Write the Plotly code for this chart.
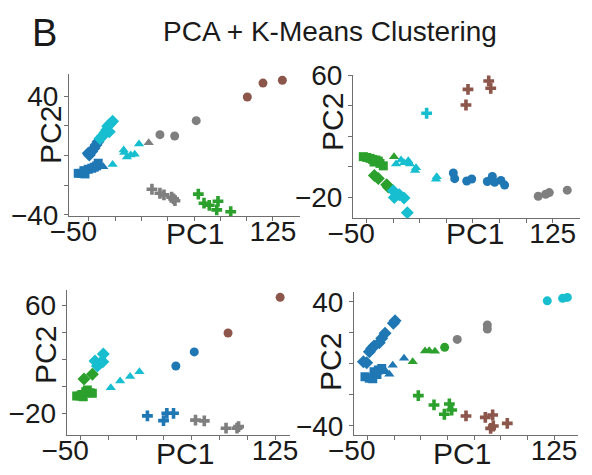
import plotly.graph_objects as go

# ---------------- data ----------------
# Panel A (top-left)
a_blue_sq_x = [-60.2, -57, -53.8, -54.8, -50.7, -47.4, -45, -42.7, -41.2]
a_blue_sq_y = [-12, -12, -12.4, -10.2, -9.3, -8.6, -7.9, -7, -5.2]
a_blue_di_x = [-50.7, -49.7, -47.4, -45.2, -43.3, -41.4]
a_blue_di_y = [1.5, 0.3, 2.6, 4.8, 7.1, 9.3]
a_blue_tri_x = [-36.4]
a_blue_tri_y = [-7.5]
a_cyan_di_x = [-39.5, -37, -34.8, -33.2, -32.2, -30.7, -30, -27.5]
a_cyan_di_y = [11.5, 13.1, 15.3, 17.1, 19.6, 16, 21.2, 23]
a_cyan_tri_x = [-27.5, -17, -16.5, -13.9, -10.3, -6.5, -2.4]
a_cyan_tri_y = [-6, 3.7, 2, -1, 0.3, 0.8, 7.7]
a_gray_tri_x = [6.8]
a_gray_tri_y = [8.6]
a_gray_ci_x = [17.5, 31.5, 52]
a_gray_ci_y = [14, 13.1, 23.4]
a_brown_ci_x = [100.6, 115.5, 133.9]
a_brown_ci_y = [39.3, 48.7, 50.6]
a_gray_cr_x = [9.9, 17.5, 21.3, 28.6, 30.5, 31.8]
a_gray_cr_y = [-22.7, -25.4, -26.5, -28.1, -29.2, -30.4]
a_green_cr_x = [54, 59.4, 64.4, 72.7, 71.5, 84.8]
a_green_cr_y = [-26, -32.1, -33.5, -30.8, -36.6, -37.8]

# Panel B (top-right)
b_brown_cr_x = [64.8, 66.7, 45.3, 43.4]
b_brown_cr_y = [56.1, 51.3, 50.6, 40.4]
b_cyan_cr_x = [6.4]
b_cyan_cr_y = [35]
b_green_sq_x = [-53.2, -50, -46.9, -44.4, -41.3, -39.1, -43.1, -37.5, -34.4]
b_green_sq_y = [6.6, 6.1, 5.5, 4.8, 4.4, 3.7, 3.1, 2.2, 0.6]
b_green_tri_x = [-24.3]
b_green_tri_y = [6.6]
b_green_di_x = [-42.8, -39.1, -31.2, -29.7]
b_green_di_y = [-5.7, -7.7, -11.8, -13.3]
b_cyan_di_x = [-25, -24, -19.3, -14.9, -11.8]
b_cyan_di_y = [-15.7, -20.1, -18.3, -20.5, -30]
b_cyan_tri_x = [-22.4, -17.7, -14.9, -10.9, -9.3, -3.6, -4.5, 15.9, 15.2]
b_cyan_tri_y = [1.8, 4.4, 2.6, 4, 1.8, -0.6, -2.5, -6.5, -8.2]
b_blue_ci_x = [31.5, 32.8, 44.1, 48.8, 63.5, 68.2, 70.4, 76.3, 79.8]
b_blue_ci_y = [-4.1, -7.8, -9.3, -8, -9.6, -6.3, -10.2, -8.9, -12]
b_gray_ci_x = [111.4, 118.4, 121.8, 138.7]
b_gray_ci_y = [-19.3, -18, -16.9, -15.3]

# Panel C (bottom-left)
c_brown_ci_x = [129.6, 82.7]
c_brown_ci_y = [65.7, 39.4]
c_blue_ci_x = [52.3, 35.7]
c_blue_ci_y = [25.4, 15.0]
c_cyan_tri_x = [-22.9, -14.5, -5.5, 2.9]
c_cyan_tri_y = [-1.0, 3.9, 7.2, 10.8]
c_cyan_di_x = [-37.1, -35, -32.6, -30.1, -29.6]
c_cyan_di_y = [18.7, 15.0, 17.0, 18.2, 23.8]
c_green_di_x = [-47, -39.5]
c_green_di_y = [5.4, 8.9]
c_green_sq_x = [-53.6, -50.5, -47.7, -44, -41.6, -39.5, -49, -45.5]
c_green_sq_y = [-7.1, -7.2, -7.6, -2.7, -4.7, -5.1, -6.0, -4.0]
c_blue_cr_x = [10.1, 24.6, 27.6, 33.6]
c_blue_cr_y = [-21.8, -25.3, -19.9, -19.9]
c_gray_cr_x = [53.4, 61.3, 80.9, 90.8, 92.2]
c_gray_cr_y = [-24.9, -25.5, -30.9, -30.9, -29.7]

# Panel D (bottom-right)
d_cyan_ci_x = [118.7, 133.1, 137.5]
d_cyan_ci_y = [40.6, 42.2, 42.8]
d_gray_ci_x = [62.5, 62.5, 34.3]
d_gray_ci_y = [25, 22.4, 15.7]
d_green_ci_x = [22.5]
d_green_ci_y = [10.6]
d_green_tri_x = [4.1, 8, 13.4, -7.5]
d_green_tri_y = [8.2, 8.4, 8, 1.3]
d_blue_tri_x = [-15.6, -26.2, -29.4, -32.5]
d_blue_tri_y = [3.5, -1, -6.8, -5.2]
d_blue_di_x = [-53.7, -50.6, -48.1, -45.9, -43.7, -38.8, -36.5, -33.4, -25.6, -24]
d_blue_di_y = [1.3, 0.6, 7.7, 9.9, 11.4, 13.5, 16.4, 19.6, 26.1, 27.7]
d_blue_sq_x = [-52.2, -48.1, -44.9, -43.7, -39.7, -36.5, -41]
d_blue_sq_y = [-8.4, -9.4, -9.7, -5.2, -4.1, -3, -7]
d_green_cr_x = [-2.2, 12.5, 22.2, 26.9, 29.1]
d_green_cr_y = [-20.6, -26.6, -32.6, -26, -29.9]
d_brown_cr_x = [42.5, 60.6, 67.5, 65.6, 68.1, 81.2]
d_brown_cr_y = [-33.7, -34.6, -33.1, -41.7, -40.2, -38.5]

x_tickvals = [-50, -25, 0, 25, 50, 75, 100, 125]
x_ticktext = ["\u221250\u00a0\u00a0\u00a0\u00a0", "", "", "", "", "", "", "125"]
y_tickvals_40 = [-40, -20, 0, 20, 40]
y_ticktext_40 = ["\u221240", "", "", "", "40"]
y_tickvals_60 = [-20, 0, 20, 40, 60]
y_ticktext_60 = ["\u221220", "", "", "", "60"]

# ---------------- styling ----------------
BLUE = "#1f77b4"
CYAN = "#17becf"
GREEN = "#2ca02c"
GRAY = "#7f7f7f"
BROWN = "#8c564b"
FONT = "Liberation Sans, Arial, sans-serif"
TXT = "#1a1a1a"

SYM = {"sq": "square", "di": "diamond", "tri": "triangle-up", "ci": "circle", "cr": "cross"}
SIZE = {"sq": 9, "di": 10, "tri": 9, "ci": 9, "cr": 9}

fig = go.Figure()

def add(xs, ys, color, kind, n):
    fig.add_trace(go.Scatter(
        x=xs, y=ys, mode="markers",
        marker=dict(symbol=SYM[kind], size=SIZE[kind], color=color, line=dict(width=0)),
        xaxis="x" if n == 1 else f"x{n}", yaxis="y" if n == 1 else f"y{n}",
        showlegend=False, hoverinfo="skip"))

# Panel A
add(a_blue_sq_x, a_blue_sq_y, BLUE, "sq", 1)
add(a_blue_di_x, a_blue_di_y, BLUE, "di", 1)
add(a_blue_tri_x, a_blue_tri_y, BLUE, "tri", 1)
add(a_cyan_di_x, a_cyan_di_y, CYAN, "di", 1)
add(a_cyan_tri_x, a_cyan_tri_y, CYAN, "tri", 1)
add(a_gray_tri_x, a_gray_tri_y, GRAY, "tri", 1)
add(a_gray_ci_x, a_gray_ci_y, GRAY, "ci", 1)
add(a_brown_ci_x, a_brown_ci_y, BROWN, "ci", 1)
add(a_gray_cr_x, a_gray_cr_y, GRAY, "cr", 1)
add(a_green_cr_x, a_green_cr_y, GREEN, "cr", 1)
# Panel B
add(b_brown_cr_x, b_brown_cr_y, BROWN, "cr", 2)
add(b_cyan_cr_x, b_cyan_cr_y, CYAN, "cr", 2)
add(b_green_sq_x, b_green_sq_y, GREEN, "sq", 2)
add(b_green_tri_x, b_green_tri_y, GREEN, "tri", 2)
add(b_green_di_x, b_green_di_y, GREEN, "di", 2)
add(b_cyan_di_x, b_cyan_di_y, CYAN, "di", 2)
add(b_cyan_tri_x, b_cyan_tri_y, CYAN, "tri", 2)
add(b_blue_ci_x, b_blue_ci_y, BLUE, "ci", 2)
add(b_gray_ci_x, b_gray_ci_y, GRAY, "ci", 2)
# Panel C
add(c_brown_ci_x, c_brown_ci_y, BROWN, "ci", 3)
add(c_blue_ci_x, c_blue_ci_y, BLUE, "ci", 3)
add(c_cyan_tri_x, c_cyan_tri_y, CYAN, "tri", 3)
add(c_cyan_di_x, c_cyan_di_y, CYAN, "di", 3)
add(c_green_di_x, c_green_di_y, GREEN, "di", 3)
add(c_green_sq_x, c_green_sq_y, GREEN, "sq", 3)
add(c_blue_cr_x, c_blue_cr_y, BLUE, "cr", 3)
add(c_gray_cr_x, c_gray_cr_y, GRAY, "cr", 3)
# Panel D
add(d_cyan_ci_x, d_cyan_ci_y, CYAN, "ci", 4)
add(d_gray_ci_x, d_gray_ci_y, GRAY, "ci", 4)
add(d_green_ci_x, d_green_ci_y, GREEN, "ci", 4)
add(d_green_tri_x, d_green_tri_y, GREEN, "tri", 4)
add(d_blue_tri_x, d_blue_tri_y, BLUE, "tri", 4)
add(d_blue_di_x, d_blue_di_y, BLUE, "di", 4)
add(d_blue_sq_x, d_blue_sq_y, BLUE, "sq", 4)
add(d_green_cr_x, d_green_cr_y, GREEN, "cr", 4)
add(d_brown_cr_x, d_brown_cr_y, BROWN, "cr", 4)

W, H = 592, 475

def xdom(a, b):
    return [a / W, b / W]

def ydom(top, bottom):
    return [1 - bottom / H, 1 - top / H]

axis_common = dict(showgrid=False, zeroline=False, showline=True, linecolor="#6e6e6e",
                   linewidth=1, ticks="outside", ticklen=4, tickcolor="#6e6e6e",
                   automargin=False,
                   tickfont=dict(family=FONT, size=28, color=TXT), fixedrange=True)

panels = [
    # n, xdomain px, ydomain px (top,bottom), xrange, yrange, yvals, ytext
    (1, (69, 300), (74, 216), [-69, 150.7], [-40.7, 54.8], y_tickvals_40, y_ticktext_40),
    (2, (353, 580), (75, 218), [-62.9, 150.7], [-33.5, 60], y_tickvals_60, y_ticktext_60),
    (3, (66.7, 290), (290, 435), [-62.6, 138.5], [-35.9, 71.1], y_tickvals_60, y_ticktext_60),
    (4, (354, 578), (291.7, 435), [-62.5, 147.5], [-46, 46.5], y_tickvals_40, y_ticktext_40),
]

layout = dict(width=W, height=H, margin=dict(l=0, r=0, t=0, b=0, autoexpand=False),
              template="none",
              paper_bgcolor="white", plot_bgcolor="white", showlegend=False)
annotations = []
for n, (xa, xb), (yt, yb), xr, yr, yv, ytx in panels:
    sx = "" if n == 1 else str(n)
    layout[f"xaxis{sx}"] = dict(axis_common, domain=xdom(xa, xb), range=xr,
                                tickvals=x_tickvals, ticktext=x_ticktext,
                                ticklabelstandoff=-14, anchor=f"y{sx}")
    layout[f"yaxis{sx}"] = dict(axis_common, domain=ydom(yt, yb), range=yr,
                                tickvals=yv, ticktext=ytx, anchor=f"x{sx}")

label_font = dict(family=FONT, size=30, color=TXT)
pc1_pos = [(195, 233), (475, 233), (185, 453), (462, 453)]
pc2_pos = [(50, 135), (333, 122), (45, 355), (330, 362)]
for (x, y) in pc1_pos:
    annotations.append(dict(text="PC1", x=x / W, y=1 - y / H, xref="paper", yref="paper",
                            showarrow=False, font=label_font, xanchor="center", yanchor="middle"))
for (x, y) in pc2_pos:
    annotations.append(dict(text="PC2", x=x / W, y=1 - y / H, xref="paper", yref="paper",
                            showarrow=False, font=label_font, textangle=-90,
                            xanchor="center", yanchor="middle"))
annotations.append(dict(text="B", x=44 / W, y=1 - 33 / H, xref="paper", yref="paper",
                        showarrow=False, font=dict(family=FONT, size=38, color=TXT),
                        xanchor="center", yanchor="middle"))
annotations.append(dict(text="PCA + K-Means Clustering", x=330 / W, y=1 - 32 / H,
                        xref="paper", yref="paper", showarrow=False,
                        font=dict(family=FONT, size=28, color=TXT),
                        xanchor="center", yanchor="middle"))
layout["annotations"] = annotations

fig.update_layout(**layout)
fig.write_html("out.html")
